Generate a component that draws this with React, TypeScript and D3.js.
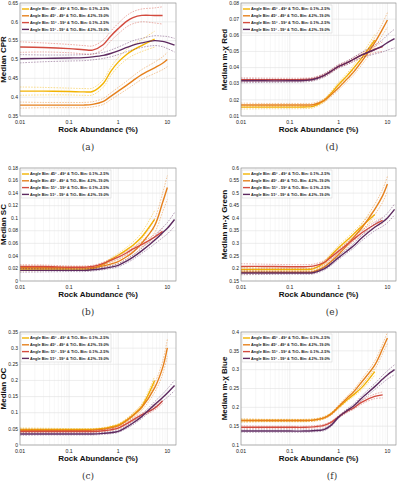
import React from "react";
import * as d3 from "d3";

// rock abundance sample points (%), shared by all curves
const abundance = [0.01, 0.03, 0.1, 0.2, 0.3, 0.5, 0.7, 1, 1.5, 2, 3, 5.5, 8, 10, 14];

const seriesNames = [
  "Angle Bin: 45° - 49° & TiO₂ Bin: 0.1%–2.5%",
  "Angle Bin: 45° - 49° & TiO₂ Bin: 4.2%–19.0%",
  "Angle Bin: 51° - 59° & TiO₂ Bin: 0.1%–2.5%",
  "Angle Bin: 51° - 59° & TiO₂ Bin: 4.2%–19.0%",
];
const seriesColors = ["#f3b300", "#e6801c", "#d34b3f", "#5d2a60"];

// (a) CPR
const cprMedian = [
  [0.416, 0.416, 0.415, 0.414, 0.415, 0.437, 0.468, 0.493, 0.514, 0.525, 0.537, 0.554],
  [0.379, 0.379, 0.379, 0.379, 0.381, 0.389, 0.402, 0.416, 0.432, 0.444, 0.46, 0.478, 0.49, 0.5],
  [0.533, 0.532, 0.529, 0.526, 0.525, 0.54, 0.562, 0.582, 0.602, 0.611, 0.617, 0.617, 0.617],
  [0.502, 0.503, 0.504, 0.505, 0.507, 0.511, 0.516, 0.523, 0.532, 0.538, 0.544, 0.55, 0.548, 0.545, 0.538],
];
const cprBand = [
  [0.011, 0.01, 0.009, 0.009, 0.009, 0.01, 0.011, 0.012, 0.013, 0.014, 0.016, 0.021],
  [0.008, 0.007, 0.007, 0.007, 0.007, 0.008, 0.009, 0.01, 0.011, 0.012, 0.013, 0.015, 0.017, 0.019],
  [0.014, 0.012, 0.011, 0.011, 0.011, 0.012, 0.013, 0.014, 0.015, 0.016, 0.017, 0.02, 0.023],
  [0.011, 0.009, 0.008, 0.008, 0.008, 0.008, 0.009, 0.01, 0.011, 0.012, 0.012, 0.013, 0.014, 0.016, 0.018],
];

// (d) m-chi Red
const redMedian = [
  [0.0155, 0.0155, 0.0155, 0.0156, 0.016, 0.0195, 0.024, 0.0295, 0.035, 0.0395, 0.046, 0.057],
  [0.0168, 0.0168, 0.0168, 0.0168, 0.017, 0.0195, 0.0232, 0.0275, 0.033, 0.037, 0.044, 0.0555, 0.064, 0.0695],
  [0.0325, 0.0325, 0.0325, 0.0326, 0.033, 0.0352, 0.0378, 0.0408, 0.043, 0.045, 0.0478, 0.0512, 0.053],
  [0.0318, 0.0318, 0.0318, 0.032, 0.0326, 0.035, 0.0377, 0.0407, 0.043, 0.045, 0.0478, 0.0512, 0.0535, 0.0555, 0.058],
];
const redBand = [
  [0.0012, 0.001, 0.001, 0.001, 0.001, 0.001, 0.0012, 0.0014, 0.0016, 0.0018, 0.0022, 0.0035],
  [0.0012, 0.001, 0.001, 0.001, 0.001, 0.001, 0.0012, 0.0014, 0.0016, 0.0018, 0.0022, 0.003, 0.0037, 0.0045],
  [0.0012, 0.001, 0.0009, 0.0009, 0.0009, 0.001, 0.001, 0.001, 0.0011, 0.0012, 0.0014, 0.002, 0.003],
  [0.0012, 0.001, 0.0009, 0.0009, 0.0009, 0.001, 0.001, 0.001, 0.0011, 0.0013, 0.0017, 0.0028, 0.0038, 0.0047, 0.0058],
];

// (b) SC
const scMedian = [
  [0.019, 0.019, 0.019, 0.019, 0.02, 0.027, 0.034, 0.041, 0.05, 0.057, 0.07, 0.098],
  [0.021, 0.021, 0.021, 0.021, 0.021, 0.024, 0.027, 0.031, 0.039, 0.046, 0.06, 0.088, 0.125, 0.149],
  [0.023, 0.023, 0.022, 0.022, 0.023, 0.028, 0.033, 0.038, 0.045, 0.051, 0.058, 0.07, 0.079],
  [0.017, 0.017, 0.017, 0.017, 0.018, 0.02, 0.022, 0.025, 0.032, 0.038, 0.048, 0.065, 0.077, 0.084, 0.098],
];
const scBand = [
  [0.003, 0.0025, 0.002, 0.002, 0.002, 0.002, 0.0025, 0.003, 0.004, 0.005, 0.007, 0.014],
  [0.003, 0.0025, 0.002, 0.002, 0.002, 0.002, 0.0025, 0.003, 0.004, 0.005, 0.007, 0.011, 0.015, 0.019],
  [0.003, 0.0025, 0.002, 0.002, 0.002, 0.002, 0.002, 0.0025, 0.003, 0.003, 0.0035, 0.004, 0.005],
  [0.003, 0.0025, 0.002, 0.002, 0.002, 0.002, 0.002, 0.0025, 0.003, 0.0035, 0.004, 0.006, 0.008, 0.009, 0.011],
];

// (e) m-chi Green
const greenMedian = [
  [0.196, 0.196, 0.196, 0.196, 0.198, 0.222, 0.252, 0.282, 0.313, 0.335, 0.368, 0.415],
  [0.185, 0.185, 0.185, 0.185, 0.186, 0.205, 0.228, 0.256, 0.293, 0.322, 0.362, 0.435, 0.49, 0.536],
  [0.208, 0.208, 0.207, 0.207, 0.209, 0.223, 0.245, 0.269, 0.296, 0.315, 0.342, 0.375, 0.391],
  [0.182, 0.182, 0.182, 0.182, 0.183, 0.198, 0.218, 0.243, 0.27, 0.289, 0.322, 0.364, 0.385, 0.401, 0.435],
];
const greenBand = [
  [0.008, 0.007, 0.006, 0.006, 0.006, 0.007, 0.008, 0.009, 0.01, 0.011, 0.013, 0.02],
  [0.007, 0.006, 0.005, 0.005, 0.005, 0.006, 0.007, 0.008, 0.01, 0.012, 0.015, 0.021, 0.026, 0.03],
  [0.011, 0.009, 0.008, 0.008, 0.008, 0.008, 0.008, 0.008, 0.008, 0.008, 0.009, 0.01, 0.012],
  [0.007, 0.006, 0.005, 0.005, 0.005, 0.005, 0.006, 0.007, 0.008, 0.009, 0.011, 0.014, 0.017, 0.019, 0.022],
];

// (c) OC
const ocMedian = [
  [0.048, 0.048, 0.048, 0.048, 0.048, 0.051, 0.056, 0.062, 0.078, 0.093, 0.119, 0.2],
  [0.045, 0.045, 0.045, 0.045, 0.046, 0.049, 0.053, 0.059, 0.076, 0.091, 0.116, 0.177, 0.239, 0.301],
  [0.042, 0.042, 0.042, 0.042, 0.042, 0.044, 0.047, 0.052, 0.066, 0.078, 0.093, 0.114, 0.137],
  [0.034, 0.034, 0.034, 0.034, 0.034, 0.036, 0.038, 0.042, 0.056, 0.068, 0.088, 0.125, 0.147, 0.161, 0.184],
];
const ocBand = [
  [0.005, 0.004, 0.003, 0.003, 0.003, 0.003, 0.003, 0.004, 0.005, 0.006, 0.007, 0.012],
  [0.005, 0.004, 0.003, 0.003, 0.003, 0.003, 0.003, 0.004, 0.005, 0.007, 0.009, 0.014, 0.02, 0.026],
  [0.005, 0.004, 0.003, 0.003, 0.003, 0.003, 0.003, 0.003, 0.004, 0.004, 0.005, 0.006, 0.008],
  [0.004, 0.003, 0.003, 0.003, 0.003, 0.003, 0.003, 0.003, 0.004, 0.005, 0.006, 0.009, 0.011, 0.013, 0.016],
];

// (f) m-chi Blue
const blueMedian = [
  [0.165, 0.165, 0.165, 0.165, 0.166, 0.172, 0.183, 0.2, 0.22, 0.233, 0.253, 0.295],
  [0.165, 0.165, 0.165, 0.165, 0.166, 0.172, 0.182, 0.202, 0.225, 0.24, 0.268, 0.312, 0.356, 0.384],
  [0.147, 0.147, 0.147, 0.147, 0.148, 0.152, 0.16, 0.175, 0.19, 0.198, 0.214, 0.229, 0.233],
  [0.137, 0.137, 0.137, 0.137, 0.138, 0.141, 0.152, 0.174, 0.192, 0.203, 0.225, 0.255, 0.275, 0.286, 0.3],
];
const blueBand = [
  [0.004, 0.003, 0.003, 0.003, 0.003, 0.003, 0.003, 0.004, 0.004, 0.005, 0.006, 0.01],
  [0.004, 0.003, 0.003, 0.003, 0.003, 0.003, 0.003, 0.004, 0.005, 0.006, 0.008, 0.011, 0.013, 0.015],
  [0.004, 0.003, 0.003, 0.003, 0.003, 0.003, 0.003, 0.003, 0.004, 0.004, 0.005, 0.006, 0.008],
  [0.003, 0.003, 0.003, 0.003, 0.003, 0.003, 0.003, 0.003, 0.004, 0.005, 0.006, 0.008, 0.01, 0.011, 0.013],
];

const xTicks = [0.01, 0.1, 1, 10];

const panels = [
  { id: "(a)", title: "Median CPR", col: 0, row: 0, yDomain: [0.35, 0.65], yTicks: [0.35, 0.4, 0.45, 0.5, 0.55, 0.6, 0.65], med: cprMedian, band: cprBand },
  { id: "(b)", title: "Median SC", col: 0, row: 1, yDomain: [0, 0.18], yTicks: [0, 0.02, 0.04, 0.06, 0.08, 0.1, 0.12, 0.14, 0.16, 0.18], med: scMedian, band: scBand },
  { id: "(c)", title: "Median OC", col: 0, row: 2, yDomain: [0, 0.35], yTicks: [0, 0.05, 0.1, 0.15, 0.2, 0.25, 0.3, 0.35], med: ocMedian, band: ocBand },
  { id: "(d)", title: "Median m-χ Red", col: 1, row: 0, yDomain: [0.01, 0.08], yTicks: [0.01, 0.02, 0.03, 0.04, 0.05, 0.06, 0.07, 0.08], med: redMedian, band: redBand },
  { id: "(e)", title: "Median m-χ Green", col: 1, row: 1, yDomain: [0.15, 0.6], yTicks: [0.15, 0.2, 0.25, 0.3, 0.35, 0.4, 0.45, 0.5, 0.55, 0.6], med: greenMedian, band: greenBand },
  { id: "(f)", title: "Median m-χ Blue", col: 1, row: 2, yDomain: [0.1, 0.4], yTicks: [0.1, 0.15, 0.2, 0.25, 0.3, 0.35, 0.4], med: blueMedian, band: blueBand },
];

const colX = [[20, 176], [241, 396]];
const rowTop = [3, 168, 332];
const plotH = 113;
const captionX = [88, 332];
const sans = "'Liberation Sans', Arial, sans-serif";

function Panel({ p }: { p: any }) {
  const [x0, x1] = colX[p.col];
  const top = rowTop[p.row];
  const bottom = top + plotH;
  const x = d3.scaleLog().domain([0.01, 15]).range([x0, x1]);
  const y = d3.scaleLinear().domain(p.yDomain).range([bottom, top]);
  const fmt = d3.format("~g");
  const line = d3
    .line<[number, number]>()
    .x((d) => x(d[0]))
    .y((d) => y(d[1]))
    .curve(d3.curveCatmullRom.alpha(0.5));

  // minor log grid
  const minor: number[] = [];
  [0.01, 0.1, 1, 10].forEach((dec) => {
    for (let k = 2; k <= 9; k++) if (dec * k <= 15) minor.push(dec * k);
  });

  return (
    <g>
      <rect x={x0} y={top} width={x1 - x0} height={plotH} fill="#fff" />
      {minor.map((v) => (
        <line key={"m" + v} x1={x(v)} x2={x(v)} y1={top} y2={bottom} stroke="#eeeeee" strokeWidth={0.5} />
      ))}
      {xTicks.map((v) => (
        <line key={"g" + v} x1={x(v)} x2={x(v)} y1={top} y2={bottom} stroke="#e0e0e0" strokeWidth={0.6} />
      ))}
      {p.yTicks.map((v: number) => (
        <line key={"h" + v} x1={x0} x2={x1} y1={y(v)} y2={y(v)} stroke="#e0e0e0" strokeWidth={0.6} />
      ))}

      {p.med.map((vals: number[], i: number) => {
        const pts = vals.map((v, j) => [abundance[j], v] as [number, number]);
        const up = vals.map((v, j) => [abundance[j], v + p.band[i][j]] as [number, number]);
        const lo = vals.map((v, j) => [abundance[j], v - p.band[i][j]] as [number, number]);
        const c = seriesColors[i];
        return (
          <g key={i}>
            <path d={line(up) || ""} fill="none" stroke={c} strokeOpacity={0.55} strokeWidth={0.8} strokeDasharray="1.6,1.2" />
            <path d={line(lo) || ""} fill="none" stroke={c} strokeOpacity={0.55} strokeWidth={0.8} strokeDasharray="1.6,1.2" />
            <path d={line(pts) || ""} fill="none" stroke={c} strokeWidth={1.4} />
          </g>
        );
      })}

      <rect x={x0} y={top} width={x1 - x0} height={plotH} fill="none" stroke="#8a8a8a" strokeWidth={0.6} />

      {p.yTicks.map((v: number) => (
        <text key={"yl" + v} x={x0 - 2} y={y(v) + 1.7} textAnchor="end" fontSize={5} fontFamily={sans} fill="#222">
          {fmt(v)}
        </text>
      ))}
      {xTicks.map((v) => (
        <text key={"xl" + v} x={x(v)} y={bottom + 7.5} textAnchor="middle" fontSize={5.2} fontFamily={sans} fill="#222">
          {fmt(v)}
        </text>
      ))}
      <text x={(x0 + x1) / 2} y={bottom + 16} textAnchor="middle" fontSize={8} fontWeight="bold" fontFamily={sans} fill="#111">
        Rock Abundance (%)
      </text>
      <text
        transform={`translate(${x0 - 14.5},${(top + bottom) / 2}) rotate(-90)`}
        textAnchor="middle"
        fontSize={8}
        fontWeight="bold"
        fontFamily={sans}
        fill="#111"
      >
        {p.title}
      </text>

      {/* legend */}
      <rect x={x0 + 1} y={top + 2} width={90} height={28} fill="#fff" stroke="#cfcfcf" strokeWidth={0.5} />
      {seriesNames.map((s, i) => (
        <g key={"lg" + i}>
          <line x1={x0 + 2} x2={x0 + 9} y1={top + 6 + i * 6.8} y2={top + 6 + i * 6.8} stroke={seriesColors[i]} strokeWidth={1.4} />
          <text x={x0 + 10} y={top + 7.4 + i * 6.8} fontSize={4} fontWeight="bold" fontFamily={sans} fill="#222" textLength={79} lengthAdjust="spacingAndGlyphs">
            {s}
          </text>
        </g>
      ))}

      <text x={captionX[p.col]} y={rowTop[p.row] + 147} textAnchor="middle" fontSize={9} fontFamily="'DejaVu Serif', serif" fill="#333">
        {p.id}
      </text>
    </g>
  );
}

export default function App() {
  return (
    <svg width={400} height={484} style={{ position: "absolute", left: 0, top: 0, background: "#fff" }}>
      {panels.map((p) => (
        <Panel key={p.id} p={p} />
      ))}
    </svg>
  );
}
